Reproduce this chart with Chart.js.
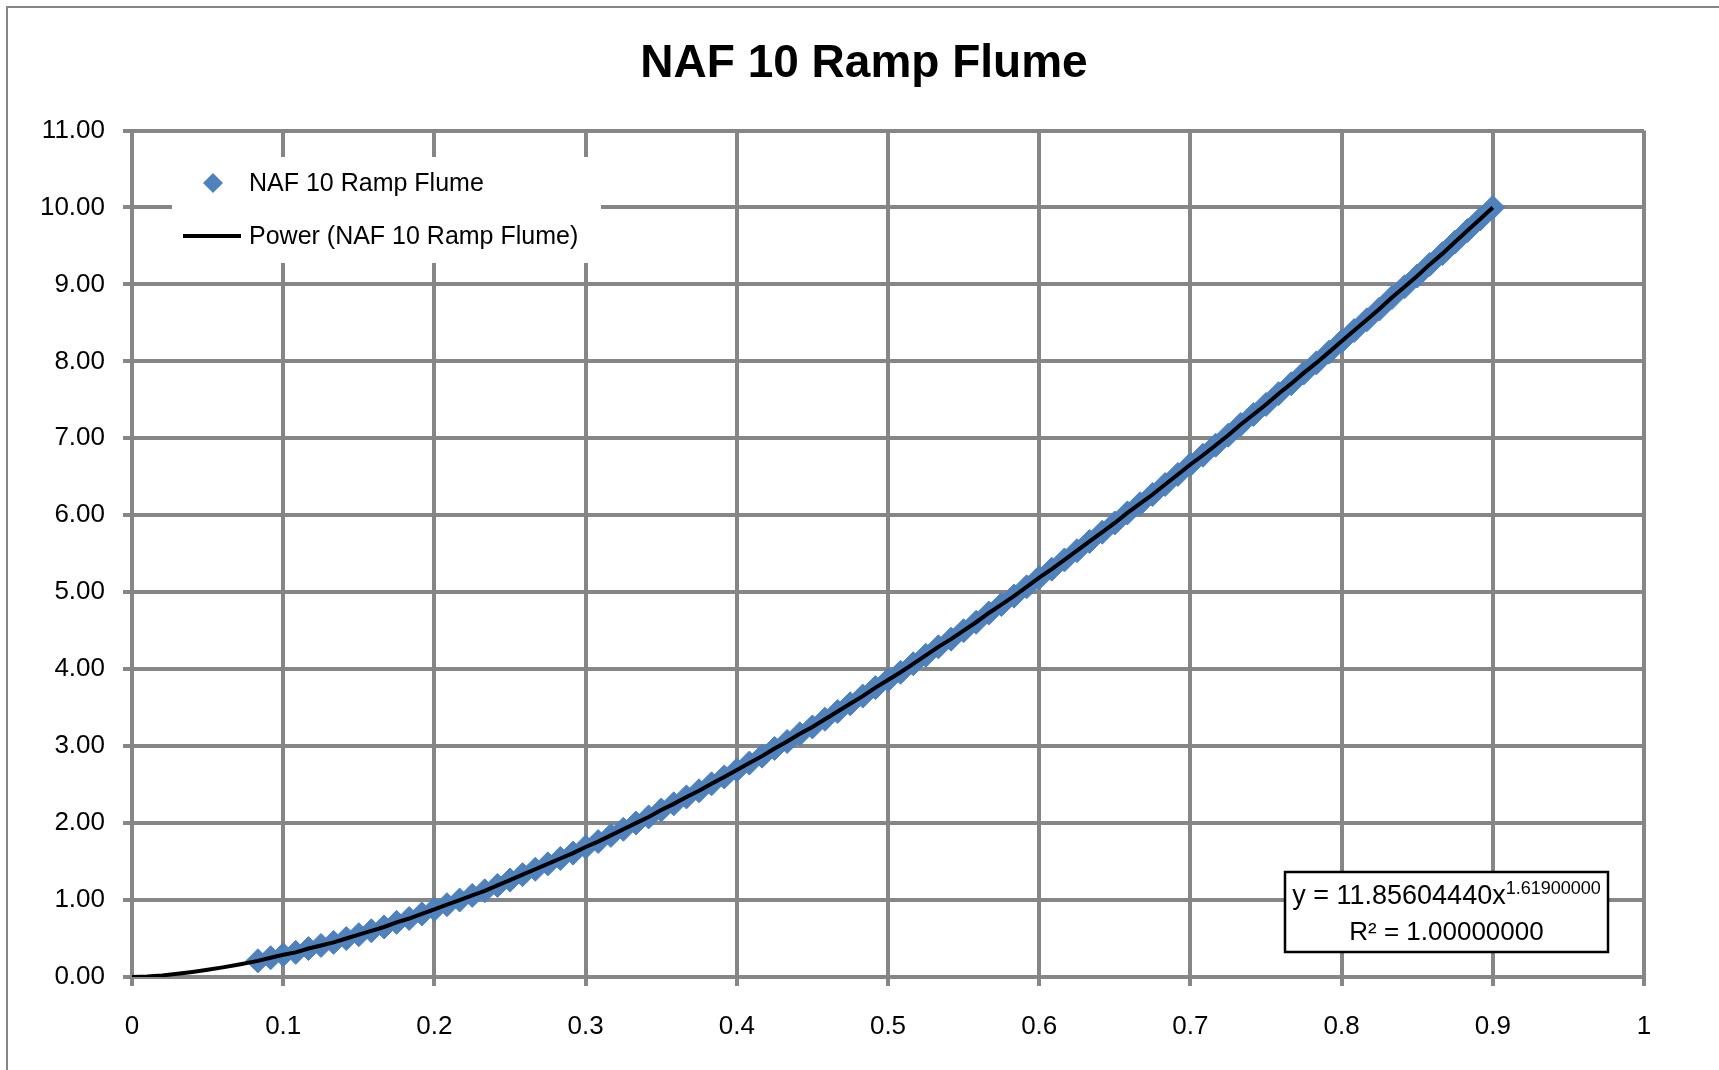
<!DOCTYPE html>
<html>
<head>
<meta charset="utf-8">
<title>NAF 10 Ramp Flume</title>
<script src="https://cdn.jsdelivr.net/npm/chart.js@4.4.1/dist/chart.umd.min.js"></script>
<style>
  html, body { margin: 0; padding: 0; background: #fff; }
  canvas { display: block; }
</style>
</head>
<body>
<canvas id="chart-1" width="1719" height="1070"></canvas>
<script>
// Data (head in ft, flow)

const chartTitle = "NAF 10 Ramp Flume";
const trendLabel = "Power (NAF 10 Ramp Flume)";
const equationText = "y = 11.85604440x";
const equationExp = "1.61900000";
const rSquaredText = "R\u00b2 = 1.00000000";

const headX = [
  0.0833, 0.0917, 0.1, 0.1083, 0.1167, 0.125, 0.1333, 0.1417, 0.15, 0.1583,
  0.1667, 0.175, 0.1833, 0.1917, 0.2, 0.2083, 0.2167, 0.225, 0.2333, 0.2417,
  0.25, 0.2583, 0.2667, 0.275, 0.2833, 0.2917, 0.3, 0.3083, 0.3167, 0.325,
  0.3333, 0.3417, 0.35, 0.3583, 0.3667, 0.375, 0.3833, 0.3917, 0.4, 0.4083,
  0.4167, 0.425, 0.4333, 0.4417, 0.45, 0.4583, 0.4667, 0.475, 0.4833, 0.4917,
  0.5, 0.5083, 0.5167, 0.525, 0.5333, 0.5417, 0.55, 0.5583, 0.5667, 0.575,
  0.5833, 0.5917, 0.6, 0.6083, 0.6167, 0.625, 0.6333, 0.6417, 0.65, 0.6583,
  0.6667, 0.675, 0.6833, 0.6917, 0.7, 0.7083, 0.7167, 0.725, 0.7333, 0.7417,
  0.75, 0.7583, 0.7667, 0.775, 0.7833, 0.7917, 0.8, 0.8083, 0.8167, 0.825,
  0.8333, 0.8417, 0.85, 0.8583, 0.8667, 0.875, 0.8833, 0.8917, 0.9
];

const flowY = [
  0.21, 0.25, 0.29, 0.32, 0.37, 0.41, 0.45, 0.50, 0.55, 0.60,
  0.65, 0.71, 0.76, 0.82, 0.88, 0.94, 1.00, 1.06, 1.12, 1.19,
  1.26, 1.33, 1.40, 1.47, 1.54, 1.61, 1.69, 1.76, 1.84, 1.92,
  2.00, 2.08, 2.17, 2.25, 2.34, 2.42, 2.51, 2.60, 2.69, 2.78,
  2.87, 2.97, 3.06, 3.16, 3.25, 3.35, 3.45, 3.55, 3.65, 3.76,
  3.86, 3.96, 4.07, 4.18, 4.29, 4.39, 4.50, 4.61, 4.73, 4.84,
  4.95, 5.07, 5.19, 5.30, 5.42, 5.54, 5.66, 5.78, 5.90, 6.03,
  6.15, 6.27, 6.40, 6.53, 6.66, 6.78, 6.91, 7.04, 7.18, 7.31,
  7.44, 7.58, 7.71, 7.85, 7.98, 8.12, 8.26, 8.40, 8.54, 8.68,
  8.83, 8.97, 9.11, 9.26, 9.40, 9.55, 9.70, 9.85, 10.00
];

// trendline starts at the origin, then follows the points
const trendLeadX = [0, 0.01, 0.02, 0.03, 0.04, 0.05, 0.06, 0.07];
const trendLeadY = [0, 0.007, 0.021, 0.041, 0.065, 0.093, 0.125, 0.160];

const xTicks = [0, 0.1, 0.2, 0.3, 0.4, 0.5, 0.6, 0.7, 0.8, 0.9, 1];
const yTicks = [0, 1, 2, 3, 4, 5, 6, 7, 8, 9, 10, 11];

const FONT = "'Liberation Sans', Arial, sans-serif";
const GRID = "#868686";
const BLUE = "#4F81BD";

const points = headX.map((x, i) => ({ x: x, y: flowY[i] }));
const trendX = trendLeadX.concat(headX);
const trendY = trendLeadY.concat(flowY);
const trendPoints = trendX.map((x, i) => ({ x: x, y: trendY[i] }));

// outer frame, title, legend box and equation label
const extras = {
  id: "extras",
  beforeDraw(chart) {
    const c = chart.ctx;
    c.save();
    c.fillStyle = "#fff";
    c.fillRect(0, 0, chart.width, chart.height);
    c.strokeStyle = GRID;
    c.lineWidth = 2;
    c.strokeRect(7, 7, chart.width + 50, chart.height + 50);
    c.fillStyle = "#000";
    c.font = "bold 46px " + FONT;
    c.textAlign = "center";
    c.textBaseline = "middle";
    c.fillText(chartTitle, 864, 64);
    c.restore();
  },
  afterDraw(chart) {
    const c = chart.ctx;
    c.save();
    // legend
    c.fillStyle = "#fff";
    c.fillRect(172, 157, 429, 106);
    c.fillStyle = BLUE;
    c.beginPath();
    c.moveTo(213, 173);
    c.lineTo(223, 183);
    c.lineTo(213, 193);
    c.lineTo(203, 183);
    c.closePath();
    c.fill();
    c.strokeStyle = "#000";
    c.lineWidth = 4;
    c.beginPath();
    c.moveTo(183, 236);
    c.lineTo(241, 236);
    c.stroke();
    c.fillStyle = "#000";
    c.font = "25px " + FONT;
    c.textBaseline = "middle";
    c.textAlign = "left";
    c.fillText(chart.data.datasets[1].label, 249, 184);
    c.fillText(chart.data.datasets[0].label, 249, 237);

    // equation box
    c.fillStyle = "#fff";
    c.fillRect(1285, 872, 323, 80);
    c.strokeStyle = "#000";
    c.lineWidth = 2.5;
    c.strokeRect(1285, 872, 323, 80);
    c.fillStyle = "#000";
    c.font = "27px " + FONT;
    const w1 = c.measureText(equationText).width;
    c.font = "18px " + FONT;
    const w2 = c.measureText(equationExp).width;
    const start = 1446.5 - (w1 + w2) / 2;
    c.font = "27px " + FONT;
    c.fillText(equationText, start, 897);
    c.font = "18px " + FONT;
    c.fillText(equationExp, start + w1, 889);
    c.font = "26px " + FONT;
    c.textAlign = "center";
    c.fillText(rSquaredText, 1446.5, 933);
    c.restore();
  }
};

const ctx1 = document.getElementById("chart-1").getContext("2d");
const myChart = new Chart(ctx1, {
  type: "scatter",
  data: {
    datasets: [
      {
        type: "line",
        label: trendLabel,
        data: trendPoints,
        borderColor: "#000",
        borderWidth: 4,
        pointRadius: 0,
        tension: 0,
        fill: false,
        order: 0,
      },
      {
        label: chartTitle,
        data: points,
        pointStyle: "rectRot",
        pointRadius: 12,
        pointBackgroundColor: BLUE,
        pointBorderColor: BLUE,
        pointBorderWidth: 1,
        showLine: false,
        order: 1,
      },
    ],
  },
  options: {
    responsive: false,
    animation: false,
    layout: { padding: { top: 130.5, right: 75, bottom: 0, left: 0 } },
    plugins: {
      legend: { display: false },
      tooltip: { enabled: false },
      title: { display: false },
    },
    scales: {
      x: {
        type: "linear",
        min: 0,
        max: 1,
        afterBuildTicks: (s) => { s.ticks = xTicks.map((v) => ({ value: v })); },
        afterFit: (s) => { s.height = 93; },
        grid: { color: GRID, lineWidth: 4, tickLength: 9, tickColor: GRID },
        border: { color: GRID, width: 4 },
        ticks: {
          color: "#000",
          font: { family: FONT, size: 26 },
          padding: 25,
          maxRotation: 0,
          callback: (v) => String(Number(v.toFixed(1))),
        },
      },
      y: {
        min: 0,
        max: 11,
        afterBuildTicks: (s) => { s.ticks = yTicks.map((v) => ({ value: v })); },
        afterFit: (s) => { s.width = 132; },
        grid: { color: GRID, lineWidth: 4, tickLength: 9, tickColor: GRID },
        border: { color: GRID, width: 4 },
        ticks: {
          color: "#000",
          font: { family: FONT, size: 26 },
          padding: 18,
          callback: (v) => v.toFixed(2),
        },
      },
    },
  },
  plugins: [extras],
});
</script>
</body>
</html>
